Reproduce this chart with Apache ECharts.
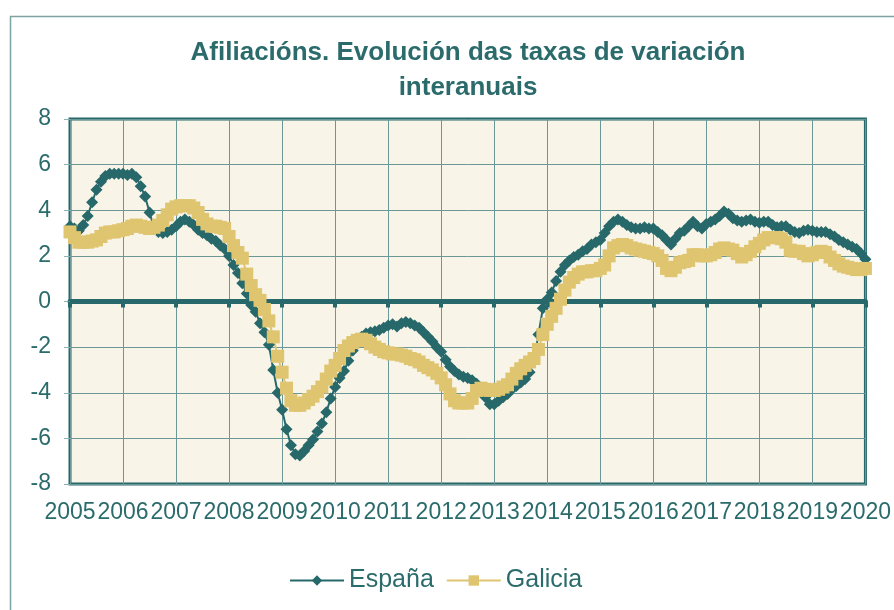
<!DOCTYPE html>
<html>
<head>
<meta charset="utf-8">
<script src="https://cdn.jsdelivr.net/npm/echarts@6/dist/echarts.min.js"></script>
<style>
  html, body { margin: 0; padding: 0; background: #fff; }
  #chart { width: 894px; height: 610px; }
</style>
</head>
<body>
<div id="chart"></div>
<script>
// monthly series, Jan 2005 .. Jan 2020 (one row per year)
const START_YEAR = 2005;
const END_YEAR = 2020;

const espana = [
  3.3, 3.2, 3.1, 3.35, 3.75, 4.35, 4.9, 5.25, 5.5, 5.6, 5.6, 5.6,
  5.6, 5.55, 5.6, 5.45, 5.05, 4.6, 3.9, 3.25, 3.05, 3.0, 3.05, 3.15,
  3.3, 3.5, 3.6, 3.5, 3.35, 3.15, 3.0, 2.9, 2.75, 2.65, 2.45, 2.3,
  2.0, 1.6, 1.25, 0.8, 0.35, -0.15, -0.45, -0.95, -1.35, -1.9, -3.0, -4.0,
  -4.75, -5.6, -6.3, -6.7, -6.75, -6.55, -6.3, -6.05, -5.7, -5.35, -4.85, -4.25,
  -3.75, -3.35, -3.05, -2.6, -2.15, -1.8, -1.55, -1.4, -1.35, -1.3, -1.25, -1.15,
  -1.05, -1.0, -1.1, -0.95, -0.9, -0.95, -1.05, -1.15, -1.35, -1.55, -1.75, -2.0,
  -2.2, -2.55, -2.85, -3.05, -3.2, -3.3, -3.35, -3.45, -3.6, -3.9, -4.2, -4.5,
  -4.5, -4.35, -4.2, -4.05, -3.85, -3.7, -3.55, -3.4, -3.1, -2.6, -1.45, -0.3,
  0.1, 0.4, 0.9, 1.3, 1.6, 1.8, 1.95, 2.05, 2.2, 2.3, 2.5, 2.6,
  2.7, 3.0, 3.3, 3.5, 3.6, 3.5, 3.35, 3.25, 3.2, 3.2, 3.25, 3.2,
  3.2, 3.05, 2.9, 2.7, 2.5, 2.75, 3.0, 3.1, 3.3, 3.5, 3.3, 3.2,
  3.4, 3.5, 3.6, 3.75, 3.95, 3.85, 3.65, 3.55, 3.5, 3.55, 3.6, 3.5,
  3.45, 3.5, 3.5, 3.35, 3.25, 3.3, 3.3, 3.15, 3.05, 3.0, 3.1, 3.15,
  3.1, 3.05, 3.05, 3.05, 2.95, 2.85, 2.7, 2.6, 2.5, 2.4, 2.3, 2.1,
  1.85
];

const galicia = [
  3.05, 2.8, 2.6, 2.6, 2.6, 2.65, 2.7, 2.85, 3.0, 3.05, 3.05, 3.1,
  3.15, 3.2, 3.3, 3.35, 3.3, 3.25, 3.2, 3.25, 3.35, 3.55, 3.8, 4.05,
  4.15, 4.2, 4.2, 4.2, 4.1, 3.9, 3.6, 3.4, 3.3, 3.3, 3.25, 3.2,
  2.85, 2.45, 2.15, 1.9, 1.2, 0.7, 0.3, 0.05, -0.35, -0.85, -1.55, -2.4,
  -3.1, -3.8, -4.35, -4.55, -4.55, -4.45, -4.3, -4.15, -3.95, -3.75, -3.4, -3.05,
  -2.8, -2.5, -2.15, -1.95, -1.8, -1.7, -1.65, -1.7, -1.85, -2.0, -2.1, -2.2,
  -2.25, -2.3, -2.3, -2.35, -2.4, -2.5, -2.55, -2.65, -2.8, -2.9, -3.0, -3.15,
  -3.35, -3.65, -4.05, -4.35, -4.45, -4.45, -4.45, -4.25, -3.9, -3.8, -3.85, -3.9,
  -3.9, -3.85, -3.75, -3.65, -3.4, -3.15, -2.95, -2.8, -2.65, -2.5, -2.1, -1.45,
  -1.0, -0.65, -0.3, 0.1, 0.5, 0.85, 1.05, 1.2, 1.3, 1.3, 1.35, 1.35,
  1.45, 1.6, 2.0, 2.35, 2.45, 2.5, 2.45, 2.35, 2.3, 2.25, 2.2, 2.15,
  2.1, 2.0, 1.8, 1.45, 1.35, 1.5, 1.7, 1.75, 1.8, 2.05, 2.05, 2.0,
  2.0, 2.05, 2.15, 2.3, 2.35, 2.3, 2.25, 2.1, 1.95, 2.05, 2.2, 2.4,
  2.55, 2.7, 2.8, 2.8, 2.8, 2.75, 2.6, 2.25, 2.2, 2.2, 2.1, 2.0,
  2.05, 2.15, 2.2, 2.15, 1.95, 1.8, 1.65, 1.55, 1.5, 1.45, 1.4, 1.4,
  1.45
];

const TEAL = '#27686a';
const GOLD = '#dfc56f';
const TEXT = '#2b6b6b';
const FONT = '"Liberation Sans", Arial, sans-serif';

const toPoints = arr => arr.map((v, i) => [START_YEAR + i / 12, v]);

const chart = echarts.init(document.getElementById('chart'), null, { renderer: 'canvas' });

const option = {
  backgroundColor: '#ffffff',
  animation: false,
  graphic: [
    {
      type: 'rect', left: 8, top: 14, z: -10,
      shape: { width: 900, height: 700 },
      style: { fill: 'none', stroke: '#7ea3a3', lineWidth: 1.5 }
    },
    {
      type: 'text', x: 468, y: 35,
      style: {
        text: 'Afiliacións. Evolución das taxas de variación\ninteranuais',
        fill: TEXT, font: 'bold 26px ' + FONT, align: 'center', lineHeight: 35
      }
    }
  ],
  grid: {
    left: 70, right: 28, top: 119, bottom: 126,
    show: true, backgroundColor: '#f8f4e7', borderColor: TEAL, borderWidth: 3
  },
  legend: {
    left: 284, top: 563, itemWidth: 54, itemHeight: 13, itemGap: 12,
    textStyle: { color: TEXT, fontSize: 25, fontFamily: FONT },
    data: ['España', 'Galicia']
  },
  xAxis: [
    {
      type: 'value', min: START_YEAR, max: END_YEAR, interval: 1,
      axisLine: { show: false, onZero: false },
      axisTick: { show: false },
      axisLabel: { color: TEXT, fontSize: 23, fontFamily: FONT, margin: 17, formatter: v => String(v) },
      splitLine: { lineStyle: { color: '#6a9898', width: 1 } }
    },
    {
      type: 'value', min: START_YEAR, max: END_YEAR, interval: 1, position: 'bottom',
      axisLine: { onZero: true, lineStyle: { color: TEAL, width: 5 } },
      axisTick: { show: true, length: 6, lineStyle: { color: TEAL, width: 4 } },
      axisLabel: { show: false },
      splitLine: { show: false }
    }
  ],
  yAxis: {
    type: 'value', min: -8, max: 8, interval: 2,
    axisLine: { show: false },
    axisTick: { show: true, length: 6, lineStyle: { color: '#8fb0b0' } },
    axisLabel: { color: TEXT, fontSize: 23, fontFamily: FONT, margin: 19 },
    splitLine: { lineStyle: { color: '#6a9898', width: 1 } }
  },
  series: [
    {
      name: 'España', type: 'line', data: toPoints(espana),
      symbol: 'diamond', symbolSize: 12, showAllSymbol: true,
      lineStyle: { color: TEAL, width: 2 },
      itemStyle: { color: TEAL }
    },
    {
      name: 'Galicia', type: 'line', data: toPoints(galicia),
      symbol: 'rect', symbolSize: 13, showAllSymbol: true,
      lineStyle: { color: GOLD, width: 2 },
      itemStyle: { color: GOLD }
    }
  ]
};

chart.setOption(option);
</script>
</body>
</html>
